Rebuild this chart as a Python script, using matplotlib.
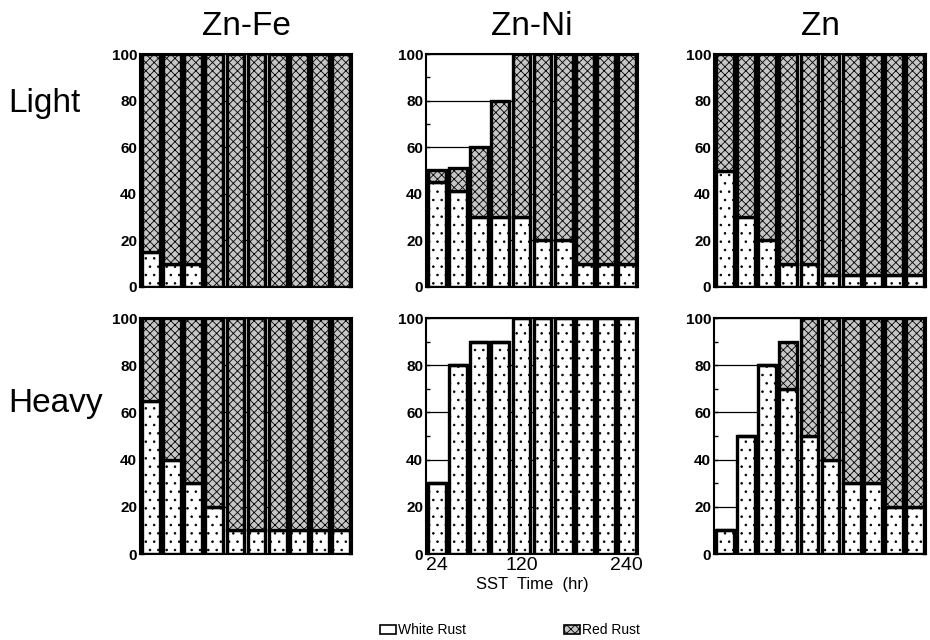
import matplotlib
matplotlib.use("Agg")
import matplotlib.pyplot as plt
from matplotlib.patches import Patch
import numpy as np

plt.rcParams['font.family'] = ['Liberation Sans', 'DejaVu Sans']
plt.rcParams['hatch.linewidth'] = 0.6

# SST time (hr)
times = [24, 48, 72, 96, 120, 144, 168, 192, 216, 240]
xticks = [24, 120, 240]
yticks = [0, 20, 40, 60, 80, 100]

coatings = ["Zn-Fe", "Zn-Ni", "Zn"]
conditions = ["Light", "Heavy"]

# White rust (%) and total rusted (%) per bar
white_light_znfe = [15, 10, 10, 0, 0, 0, 0, 0, 0, 0]
total_light_znfe = [100, 100, 100, 100, 100, 100, 100, 100, 100, 100]
white_light_znni = [45, 41, 30, 30, 30, 20, 20, 10, 10, 10]
total_light_znni = [50, 51, 60, 80, 100, 100, 100, 100, 100, 100]
white_light_zn = [50, 30, 20, 10, 10, 5, 5, 5, 5, 5]
total_light_zn = [100, 100, 100, 100, 100, 100, 100, 100, 100, 100]

white_heavy_znfe = [65, 40, 30, 20, 10, 10, 10, 10, 10, 10]
total_heavy_znfe = [100, 100, 100, 100, 100, 100, 100, 100, 100, 100]
white_heavy_znni = [30, 80, 90, 90, 100, 100, 100, 100, 100, 100]
total_heavy_znni = [30, 80, 90, 90, 100, 100, 100, 100, 100, 100]
white_heavy_zn = [10, 50, 80, 70, 50, 40, 30, 30, 20, 20]
total_heavy_zn = [10, 50, 80, 90, 100, 100, 100, 100, 100, 100]

data = {
    ("Light", "Zn-Fe"): (white_light_znfe, total_light_znfe),
    ("Light", "Zn-Ni"): (white_light_znni, total_light_znni),
    ("Light", "Zn"): (white_light_zn, total_light_zn),
    ("Heavy", "Zn-Fe"): (white_heavy_znfe, total_heavy_znfe),
    ("Heavy", "Zn-Ni"): (white_heavy_znni, total_heavy_znni),
    ("Heavy", "Zn"): (white_heavy_zn, total_heavy_zn),
}

W, H = 930, 640
fig = plt.figure(figsize=(W / 100, H / 100), dpi=100)

col_x = [140, 426, 714]
col_w = 212
row_y = [(54, 287), (318, 554)]

red_face = "#c6c6c6"
bw = 20.5

for r, cond in enumerate(conditions):
    for c, coat in enumerate(coatings):
        x0 = col_x[c]
        top, bot = row_y[r]
        ax = fig.add_axes([x0 / W, 1 - bot / H, col_w / W, (bot - top) / H])
        white, total = data[(cond, coat)]
        white = np.array(white)
        red = np.array(total) - white
        ax.set_axisbelow(True)
        ax.yaxis.grid(True, color="black", linewidth=0.9)
        ax.bar(times, white, width=bw, color="white", edgecolor="black",
               hatch="..", linewidth=2.4, zorder=2)
        ax.bar(times, red, bottom=white, width=bw, color=red_face,
               edgecolor="black", hatch="xxxx", linewidth=2.4, zorder=2)
        ax.set_xlim(11, 253)
        ax.set_ylim(0, 100)
        ax.set_yticks(yticks)
        ax.set_yticks(np.arange(10, 100, 20), minor=True)
        ax.tick_params(axis="y", which="both", direction="in", length=3,
                       labelsize=11, width=1, right=True, pad=2)
        for lab in ax.get_yticklabels():
            lab.set_fontweight("bold")
        for sp in ax.spines.values():
            sp.set_linewidth(1.5)
        if r == 1 and c == 1:
            ax.set_xticks(xticks)
            ax.set_xticklabels([str(t) for t in xticks], fontsize=14)
            ax.tick_params(axis="x", direction="in", length=3, pad=2)
            ax.set_xlabel("SST  Time  (hr)", fontsize=12, labelpad=2)
        else:
            ax.set_xticks([])
        if r == 0:
            ax.set_title(coat, fontsize=24, pad=14)

fig.text(8 / W, 1 - 112 / H, "Light", fontsize=24, va="baseline", ha="left")
fig.text(8 / W, 1 - 412 / H, "Heavy", fontsize=24, va="baseline", ha="left")

handles = [Patch(facecolor="white", edgecolor="black", linewidth=1.2),
           Patch(facecolor=red_face, edgecolor="black", hatch="xxxx", linewidth=1.2)]
fig.legend(handles, ["White Rust", "Red Rust"], loc="center",
           bbox_to_anchor=(510 / W, 1 - 630 / H), ncol=2, frameon=False,
           fontsize=10, columnspacing=7, handlelength=1.2, handleheight=0.6,
           handletextpad=0.15)

fig.savefig("out.png", dpi=100)
